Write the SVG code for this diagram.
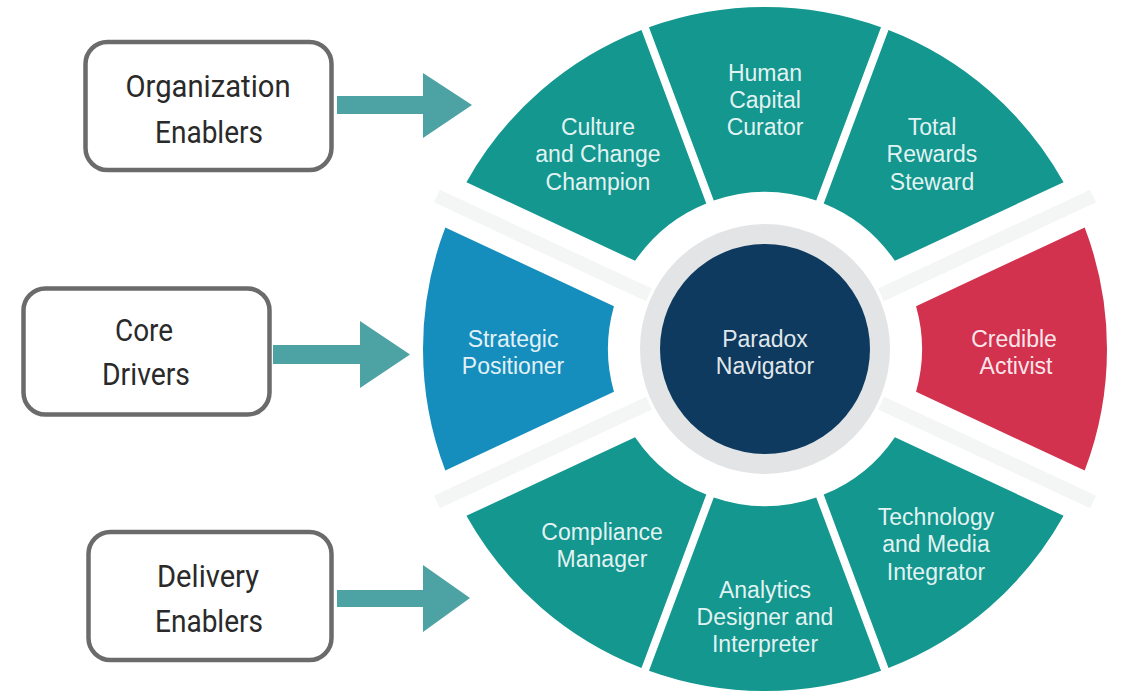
<svg xmlns="http://www.w3.org/2000/svg" width="1148" height="692" viewBox="0 0 1148 692">
<defs>
<style>
.box{fill:#ffffff;stroke:#6b6b6b;stroke-width:4.5}
.btxt{font-family:Roboto,"Liberation Sans",sans-serif;font-size:32px;font-weight:400;fill:#2a2a2a;text-anchor:middle}
.teal{fill:#13978f}
.wt{font-family:"Liberation Sans",Arial,sans-serif;font-size:23px;fill:#ffffff;fill-opacity:0.9;text-anchor:middle}
.arrow{fill:#4da2a3}
.stripe{fill:#f4f5f5}
</style>
</defs>
<rect width="1148" height="692" fill="#ffffff"/>

<g id="wheel-stripes" transform="translate(765,349)">
<rect class="stripe" x="128" y="-7" width="234" height="14" transform="rotate(-25)"/>
<rect class="stripe" x="128" y="-7" width="234" height="14" transform="rotate(25)"/>
<rect class="stripe" x="-362" y="-7" width="234" height="14" transform="rotate(25)"/>
<rect class="stripe" x="-362" y="-7" width="234" height="14" transform="rotate(-25)"/>
</g>

<g id="node-credible-activist" transform="translate(765,349)">
<path fill="#d3324f" d="M319.69,-121.49 A342,342 0 0 1 319.69,121.49 L151.04,42.85 A157,157 0 0 0 151.04,-42.85 Z"/>
<text class="wt" x="249" y="-2">Credible</text>
<text class="wt" x="251" y="25">Activist</text>
</g>

<g id="node-total-rewards-steward" transform="translate(765,349)">
<path class="teal" d="M298.56,-166.81 A342,342 0 0 0 123.51,-318.92 L58.71,-145.61 A157,157 0 0 1 129.91,-88.16 Z"/>
<text class="wt" x="167" y="-214">Total</text>
<text class="wt" x="167" y="-187">Rewards</text>
<text class="wt" x="167" y="-159">Steward</text>
</g>

<g id="node-human-capital-curator" transform="translate(765,349)">
<path class="teal" d="M116.02,-321.72 A342,342 0 0 0 -116.02,-321.72 L-51.22,-148.41 A157,157 0 0 1 51.22,-148.41 Z"/>
<text class="wt" x="0" y="-268">Human</text>
<text class="wt" x="0" y="-241">Capital</text>
<text class="wt" x="0" y="-214">Curator</text>
</g>

<g id="node-culture-and-change-champion" transform="translate(765,349)">
<path class="teal" d="M-298.56,-166.81 A342,342 0 0 1 -123.51,-318.92 L-58.71,-145.61 A157,157 0 0 0 -129.91,-88.16 Z"/>
<text class="wt" x="-167" y="-214">Culture</text>
<text class="wt" x="-167" y="-187">and Change</text>
<text class="wt" x="-167" y="-159">Champion</text>
</g>

<g id="node-strategic-positioner" transform="translate(765,349)">
<path fill="#168ebd" d="M-319.69,-121.49 A342,342 0 0 0 -319.69,121.49 L-151.04,42.85 A157,157 0 0 1 -151.04,-42.85 Z"/>
<text class="wt" x="-252" y="-2">Strategic</text>
<text class="wt" x="-252" y="25">Positioner</text>
</g>

<g id="node-compliance-manager" transform="translate(765,349)">
<path class="teal" d="M-298.56,166.81 A342,342 0 0 0 -123.51,318.92 L-58.71,145.61 A157,157 0 0 1 -129.91,88.16 Z"/>
<text class="wt" x="-163" y="191">Compliance</text>
<text class="wt" x="-163" y="218">Manager</text>
</g>

<g id="node-analytics-designer-and-interpreter" transform="translate(765,349)">
<path class="teal" d="M116.02,321.72 A342,342 0 0 1 -116.02,321.72 L-51.22,148.41 A157,157 0 0 0 51.22,148.41 Z"/>
<text class="wt" x="0" y="249">Analytics</text>
<text class="wt" x="0" y="276">Designer and</text>
<text class="wt" x="0" y="303">Interpreter</text>
</g>

<g id="node-technology-and-media-integrator" transform="translate(765,349)">
<path class="teal" d="M298.56,166.81 A342,342 0 0 1 123.51,318.92 L58.71,145.61 A157,157 0 0 0 129.91,88.16 Z"/>
<text class="wt" x="171" y="176">Technology</text>
<text class="wt" x="171" y="203">and Media</text>
<text class="wt" x="171" y="231">Integrator</text>
</g>

<g id="node-paradox-navigator" transform="translate(765,349)">
<circle r="125" fill="#e3e4e5"/>
<circle r="105" fill="#0d3a5e"/>
<text class="wt" x="0" y="-2">Paradox</text>
<text class="wt" x="0" y="25">Navigator</text>
</g>

<g id="node-organization-enablers">
<rect class="box" x="85.5" y="42" width="246" height="128" rx="22"/>
<text class="btxt" x="208" y="97" textLength="165" lengthAdjust="spacingAndGlyphs">Organization</text>
<text class="btxt" x="209" y="143" textLength="108" lengthAdjust="spacingAndGlyphs">Enablers</text>
</g>

<g id="node-core-drivers">
<rect class="box" x="23.5" y="288.5" width="246" height="126" rx="22"/>
<text class="btxt" x="144" y="341" textLength="58" lengthAdjust="spacingAndGlyphs">Core</text>
<text class="btxt" x="146" y="385" textLength="88" lengthAdjust="spacingAndGlyphs">Drivers</text>
</g>

<g id="node-delivery-enablers">
<rect class="box" x="88.5" y="532" width="243" height="128" rx="22"/>
<text class="btxt" x="208" y="587" textLength="102" lengthAdjust="spacingAndGlyphs">Delivery</text>
<text class="btxt" x="209" y="632" textLength="108" lengthAdjust="spacingAndGlyphs">Enablers</text>
</g>

<g id="connectors">
<polygon class="arrow" points="337,96 423,96 423,73 472,105 423,138 423,114 337,114"/>
<polygon class="arrow" points="273,345 360,345 360,321 410,354.5 360,388 360,364 273,364"/>
<polygon class="arrow" points="337,590 423,590 423,565 470,598 423,632 423,607 337,607"/>
</g>
</svg>
